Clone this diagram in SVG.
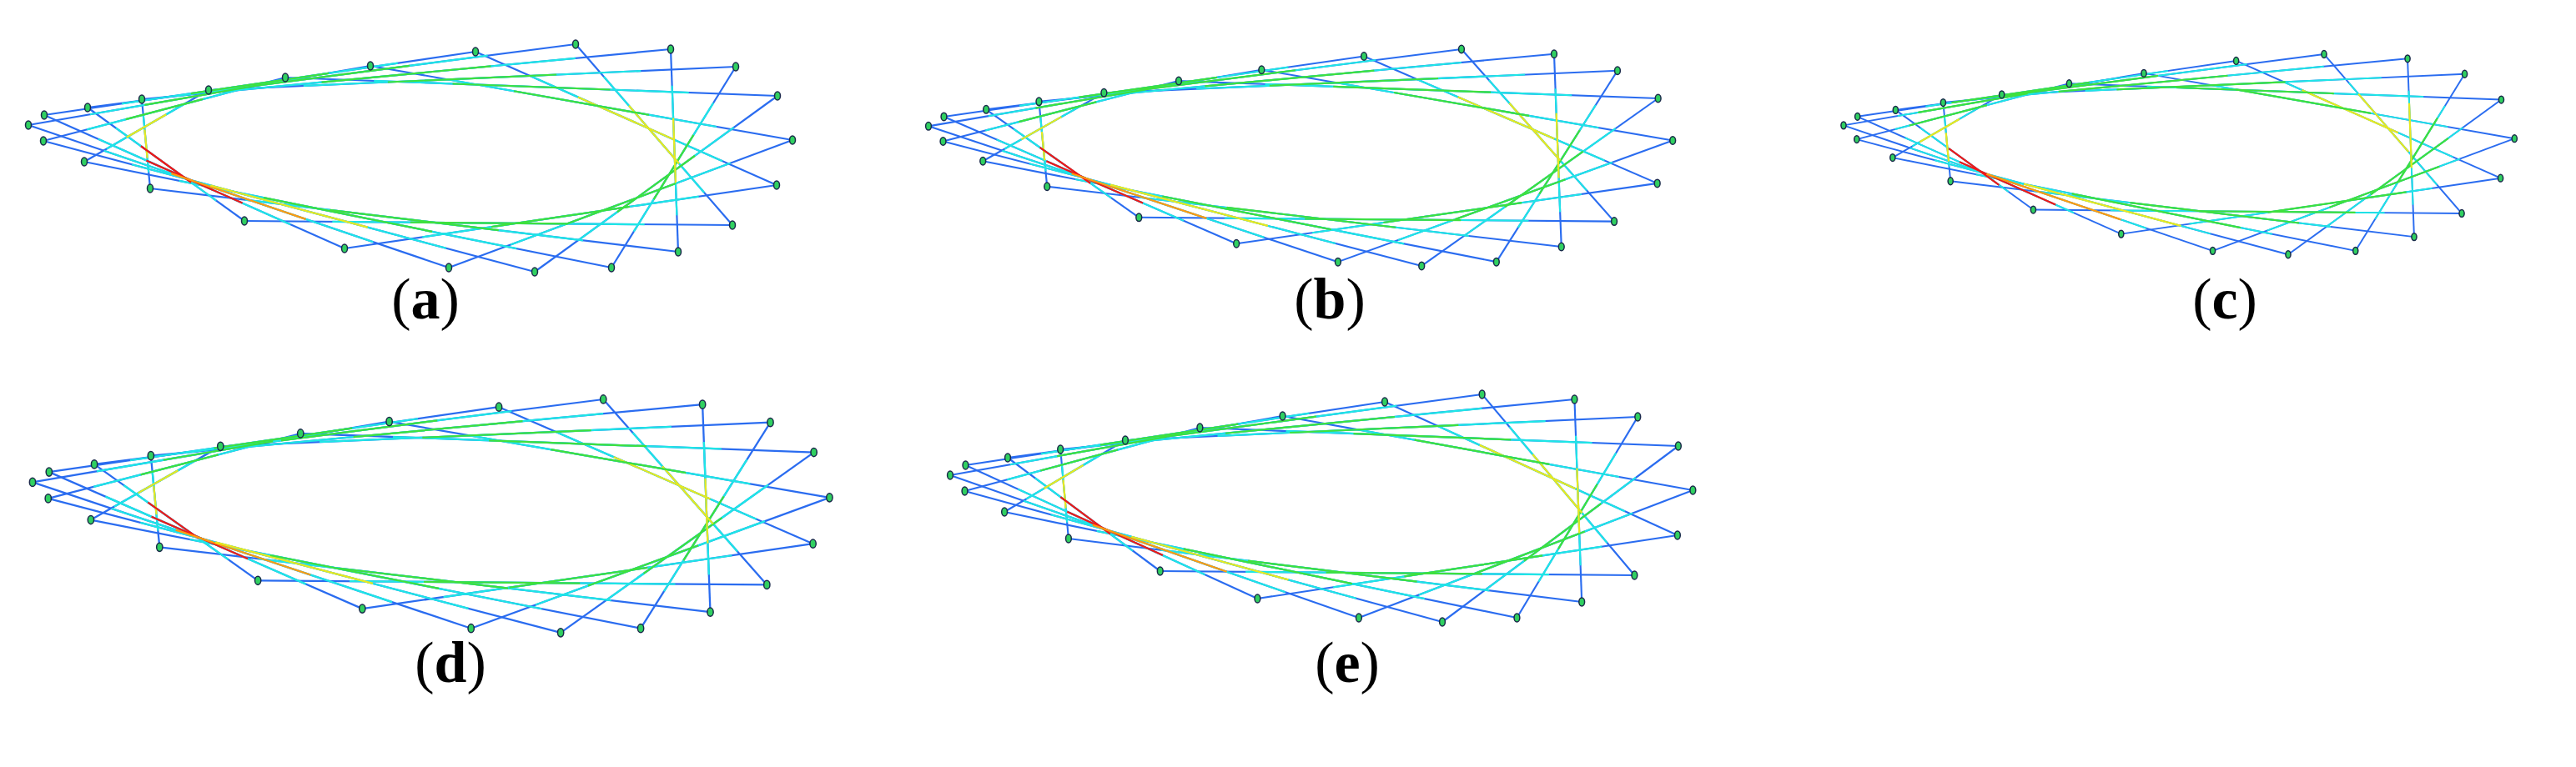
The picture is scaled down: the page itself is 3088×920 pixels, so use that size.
<svg xmlns="http://www.w3.org/2000/svg" xmlns:xlink="http://www.w3.org/1999/xlink" width="3088" height="920" viewBox="0 0 3088 920">
<style>
.b{stroke:#2a6cf0;fill:none;stroke-width:2.2;vector-effect:non-scaling-stroke}
.c{stroke:#1ee6e6;fill:none;stroke-width:2.2;stroke-dasharray:0 18 64 100;vector-effect:non-scaling-stroke}
.m path{fill:none;stroke-width:2.2;stroke-dasharray:0 34 32 100;vector-effect:non-scaling-stroke;stroke:#3ee03e}
.m .r{stroke:#f01818}.m .y{stroke:#e8e820}.m .o{stroke:#ff9a10}
.n{fill:#30d060;stroke:#1a2a4a;stroke-width:1.5;vector-effect:non-scaling-stroke}
.lbl{font-family:"Liberation Serif",serif;font-size:70px;text-anchor:middle;fill:#000}
</style>
<defs>
<g id="chords">
<path pathLength="100" d="M690,53L105,129"/><path pathLength="100" d="M570,62L53,138"/><path pathLength="100" d="M444,79L34,150"/><path pathLength="100" d="M342,93L52,169"/><path pathLength="100" d="M250,108L101,194"/><path pathLength="100" d="M170,119L180,226"/><path pathLength="100" d="M105,129L293,265"/><path pathLength="100" d="M53,138L413,298"/><path pathLength="100" d="M34,150L538,321"/><path pathLength="100" d="M52,169L641,326"/><path pathLength="100" d="M101,194L733,321"/><path pathLength="100" d="M180,226L813,302"/><path pathLength="100" d="M293,265L878,270"/><path pathLength="100" d="M413,298L931,222"/><path pathLength="100" d="M538,321L950,168"/><path pathLength="100" d="M641,326L932,115"/><path pathLength="100" d="M733,321L882,80"/><path pathLength="100" d="M813,302L804,59"/><path pathLength="100" d="M878,270L690,53"/><path pathLength="100" d="M931,222L570,62"/><path pathLength="100" d="M950,168L444,79"/><path pathLength="100" d="M932,115L342,93"/><path pathLength="100" d="M882,80L250,108"/><path pathLength="100" d="M804,59L170,119"/>
</g>
<g id="net">
<use href="#chords" class="b"/>
<use href="#chords" class="c"/>
<g class="m">
<path pathLength="100" d="M690,53L105,129"/><path pathLength="100" d="M570,62L53,138"/><path pathLength="100" d="M444,79L34,150"/><path pathLength="100" d="M342,93L52,169"/><path class="y" pathLength="100" d="M250,108L101,194"/><path class="y" pathLength="100" d="M170,119L180,226"/><path class="r" pathLength="100" d="M105,129L293,265"/><path class="r" pathLength="100" d="M53,138L413,298"/><path class="o" pathLength="100" d="M34,150L538,321"/><path class="y" pathLength="100" d="M52,169L641,326"/><path pathLength="100" d="M101,194L733,321"/><path pathLength="100" d="M180,226L813,302"/><path pathLength="100" d="M293,265L878,270"/><path pathLength="100" d="M413,298L931,222"/><path pathLength="100" d="M538,321L950,168"/><path pathLength="100" d="M641,326L932,115"/><path pathLength="100" d="M733,321L882,80"/><path class="y" pathLength="100" d="M813,302L804,59"/><path class="y" pathLength="100" d="M878,270L690,53"/><path class="y" pathLength="100" d="M931,222L570,62"/><path pathLength="100" d="M950,168L444,79"/><path pathLength="100" d="M932,115L342,93"/><path pathLength="100" d="M882,80L250,108"/><path pathLength="100" d="M804,59L170,119"/>
</g>
<g class="nodes">
<ellipse class="n" cx="690" cy="53" rx="3.5" ry="5"/><ellipse class="n" cx="570" cy="62" rx="3.5" ry="5"/><ellipse class="n" cx="444" cy="79" rx="3.5" ry="5"/><ellipse class="n" cx="342" cy="93" rx="3.5" ry="5"/><ellipse class="n" cx="250" cy="108" rx="3.5" ry="5"/><ellipse class="n" cx="170" cy="119" rx="3.5" ry="5"/><ellipse class="n" cx="105" cy="129" rx="3.5" ry="5"/><ellipse class="n" cx="53" cy="138" rx="3.5" ry="5"/><ellipse class="n" cx="34" cy="150" rx="3.5" ry="5"/><ellipse class="n" cx="52" cy="169" rx="3.5" ry="5"/><ellipse class="n" cx="101" cy="194" rx="3.5" ry="5"/><ellipse class="n" cx="180" cy="226" rx="3.5" ry="5"/><ellipse class="n" cx="293" cy="265" rx="3.5" ry="5"/><ellipse class="n" cx="413" cy="298" rx="3.5" ry="5"/><ellipse class="n" cx="538" cy="321" rx="3.5" ry="5"/><ellipse class="n" cx="641" cy="326" rx="3.5" ry="5"/><ellipse class="n" cx="733" cy="321" rx="3.5" ry="5"/><ellipse class="n" cx="813" cy="302" rx="3.5" ry="5"/><ellipse class="n" cx="878" cy="270" rx="3.5" ry="5"/><ellipse class="n" cx="931" cy="222" rx="3.5" ry="5"/><ellipse class="n" cx="950" cy="168" rx="3.5" ry="5"/><ellipse class="n" cx="932" cy="115" rx="3.5" ry="5"/><ellipse class="n" cx="882" cy="80" rx="3.5" ry="5"/><ellipse class="n" cx="804" cy="59" rx="3.5" ry="5"/>
</g>
</g>
</defs>
<rect width="3088" height="920" fill="#fff"/>
<g id="panel-a"><use href="#net"/><text class="lbl" x="510" y="382">(<tspan font-weight="bold">a</tspan>)</text></g>
<g id="panel-b"><use href="#net" transform="translate(1113,59) scale(0.974,0.952) translate(-34,-53)"/><text class="lbl" x="1594" y="382">(<tspan font-weight="bold">b</tspan>)</text></g>
<g id="panel-c"><use href="#net" transform="translate(2210,65) scale(0.878,0.88) translate(-34,-53)"/><text class="lbl" x="2667" y="382">(<tspan font-weight="bold">c</tspan>)</text></g>
<g id="panel-d"><use href="#net" transform="translate(39,479) scale(1.043,1.025) translate(-34,-53)"/><text class="lbl" x="540" y="818">(<tspan font-weight="bold">d</tspan>)</text></g>
<g id="panel-e"><use href="#net" transform="translate(1139,473) scale(0.972,1.0) translate(-34,-53)"/><text class="lbl" x="1615" y="818">(<tspan font-weight="bold">e</tspan>)</text></g>
</svg>
